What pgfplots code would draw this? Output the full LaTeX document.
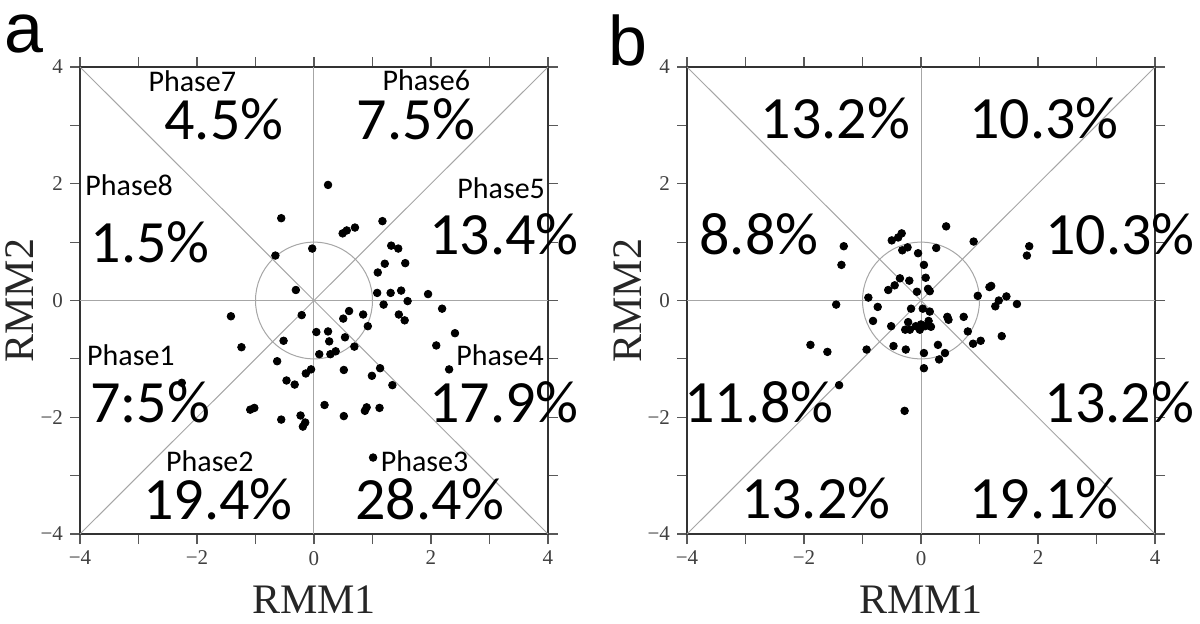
\documentclass[border=0pt]{standalone}
\usepackage{fontspec}
\setmainfont{Liberation Serif}
\newfontfamily\carl{Carlito}
\newfontfamily\arial{Liberation Sans}
\usepackage{pgfplots}
\usepackage{pgfplotstable}
\pgfplotsset{compat=1.18}

% RMM1 RMM2 of the days in each set
\pgfplotstableread{
x y
0.24 1.98
-0.56 1.41
0.49 1.15
0.56 1.20
0.70 1.25
1.17 1.36
-0.03 0.89
-0.66 0.77
1.32 0.94
1.44 0.89
1.21 0.63
1.56 0.64
1.09 0.48
-0.31 0.18
1.08 0.13
1.31 0.13
1.49 0.17
1.19 -0.07
1.60 -0.01
1.95 0.11
1.45 -0.24
1.55 -0.34
2.19 -0.14
2.41 -0.56
-1.42 -0.27
-0.21 -0.25
0.60 -0.18
0.50 -0.31
0.84 -0.24
0.92 -0.44
-1.24 -0.80
-0.52 -0.69
0.04 -0.54
0.24 -0.53
0.53 -0.63
0.26 -0.70
0.69 -0.79
0.09 -0.92
0.28 -0.92
0.37 -0.87
2.09 -0.77
-0.63 -1.04
2.31 -1.18
-0.05 -1.18
-0.14 -1.25
0.51 -1.19
0.99 -1.29
1.13 -1.16
-0.47 -1.37
-0.33 -1.44
1.34 -1.45
-2.26 -1.41
-1.09 -1.87
-1.02 -1.84
0.18 -1.79
-0.56 -2.04
-0.23 -1.97
-0.15 -2.09
-0.19 -2.16
0.51 -1.98
0.87 -1.89
0.90 -1.83
1.12 -1.84
1.01 -2.69
}\dataA

\pgfplotstableread{
x y
0.43 1.27
0.90 1.01
1.85 0.93
1.81 0.77
-1.32 0.93
-1.36 0.61
-0.33 1.15
-0.39 1.08
-0.50 1.03
-0.23 0.91
-0.32 0.86
-0.05 0.81
0.26 0.90
0.05 0.61
0.08 0.39
-0.36 0.38
-0.20 0.34
-0.45 0.26
-0.56 0.18
-0.07 0.15
0.12 0.20
0.15 0.16
-0.90 0.05
-1.45 -0.07
-0.74 -0.11
-0.17 -0.14
0.03 -0.14
0.15 -0.19
0.97 0.08
1.20 0.25
1.17 0.23
1.46 0.07
1.33 0.00
1.27 -0.10
1.64 -0.06
-0.82 -0.35
-0.51 -0.44
-0.22 -0.37
-0.27 -0.50
-0.19 -0.50
-0.09 -0.44
-0.02 -0.50
0.00 -0.41
0.07 -0.44
0.13 -0.35
0.17 -0.45
0.45 -0.28
0.47 -0.33
0.73 -0.28
0.80 -0.53
0.89 -0.74
1.02 -0.69
1.38 -0.61
-1.89 -0.76
-1.60 -0.88
-0.93 -0.84
-0.47 -0.78
-0.26 -0.84
0.05 -0.90
0.29 -0.76
0.41 -0.90
0.31 -1.01
0.05 -1.16
-1.40 -1.45
-0.28 -1.89
}\dataB

\tikzset{
  guide/.style={color=black!35, line width=0.5pt},
  pct/.style={inner sep=0pt, font=\carl\fontsize{30}{32}\selectfont},
  phase/.style={inner sep=0pt, font=\carl\fontsize{15}{17}\selectfont},
  panel/.style={anchor=north west, inner sep=0pt, font=\arial\fontsize{35}{38}\selectfont},
}
\pgfplotsset{
  rmm/.style={
    width=234pt, height=233.5pt, scale only axis,
    xmin=-4, xmax=4, ymin=-4, ymax=4,
    xtick={-4,-2,0,2,4}, ytick={-4,-2,0,2,4},
    xticklabels={−4,−2,0,2,4}, yticklabels={−4,−2,0,2,4},
    minor xtick={-3,-1,1,3}, minor ytick={-3,-1,1,3},
    tick align=outside,
    major tick length=5pt, minor tick length=5pt,
    tick style={color=black!65, line width=0.6pt},
    axis line style={line width=1pt, color=black!80},
    ticklabel style={font=\fontsize{10.5}{12}\selectfont, text=black!75},
    xlabel={RMM1}, ylabel={RMM2},
    label style={font=\fontsize{21}{24}\selectfont, text=black!85},
    x label style={at={(axis description cs:0.5,-0.14)}, anchor=center},
    y label style={at={(axis description cs:-0.128,0.5)}, anchor=center},
    clip=false,
  },
  dots/.style={only marks, mark=*, mark size=1.9pt, color=black},
}

\begin{document}
\begin{tikzpicture}
\useasboundingbox (0,0) rectangle (600pt,311.5pt);

\node[panel] at (2pt,304.5pt) {a};
\node[panel] at (304pt,304.5pt) {b};

\begin{axis}[rmm, at={(40pt,44.5pt)}, anchor=south west]
\addplot[guide, no markers] coordinates {(-4,-4) (4,4)};
\addplot[guide, no markers] coordinates {(-4,4) (4,-4)};
\addplot[guide, no markers] coordinates {(0,-4) (0,4)};
\addplot[guide, no markers] coordinates {(-4,0) (4,0)};
\draw[guide] (axis cs:0,0) circle[radius=1];
\addplot[dots] table {\dataA};
\node[phase] at (axis cs:-2.08,3.76) {Phase7};
\node[pct]   at (axis cs:-1.54,3.10) {4.5\%};
\node[phase] at (axis cs:1.92,3.77) {Phase6};
\node[pct]   at (axis cs:1.75,3.10) {7.5\%};
\node[phase] at (axis cs:-3.16,1.97) {Phase8};
\node[pct]   at (axis cs:-2.80,0.99) {1.5\%};
\node[phase] at (axis cs:3.20,1.93) {Phase5};
\node[pct]   at (axis cs:3.25,1.14) {13.4\%};
\node[phase] at (axis cs:-3.13,-0.93) {Phase1};
\node[pct]   at (axis cs:-2.80,-1.74) {7:5\%};
\node[phase] at (axis cs:3.18,-0.94) {Phase4};
\node[pct]   at (axis cs:3.25,-1.74) {17.9\%};
\node[phase] at (axis cs:-1.78,-2.76) {Phase2};
\node[pct]   at (axis cs:-1.64,-3.41) {19.4\%};
\node[phase] at (axis cs:1.89,-2.76) {Phase3};
\node[pct]   at (axis cs:1.98,-3.41) {28.4\%};
\end{axis}

\begin{axis}[rmm, at={(343.5pt,44.5pt)}, anchor=south west]
\addplot[guide, no markers] coordinates {(-4,-4) (4,4)};
\addplot[guide, no markers] coordinates {(-4,4) (4,-4)};
\addplot[guide, no markers] coordinates {(0,-4) (0,4)};
\addplot[guide, no markers] coordinates {(-4,0) (4,0)};
\draw[guide] (axis cs:0,0) circle[radius=1];
\addplot[dots] table {\dataB};
\node[pct] at (axis cs:-1.46,3.12) {13.2\%};
\node[pct] at (axis cs:2.10,3.12) {10.3\%};
\node[pct] at (axis cs:-2.77,1.14) {8.8\%};
\node[pct] at (axis cs:3.40,1.14) {10.3\%};
\node[pct] at (axis cs:-2.77,-1.74) {11.8\%};
\node[pct] at (axis cs:3.39,-1.74) {13.2\%};
\node[pct] at (axis cs:-1.80,-3.38) {13.2\%};
\node[pct] at (axis cs:2.10,-3.38) {19.1\%};
\end{axis}
\end{tikzpicture}
\end{document}
